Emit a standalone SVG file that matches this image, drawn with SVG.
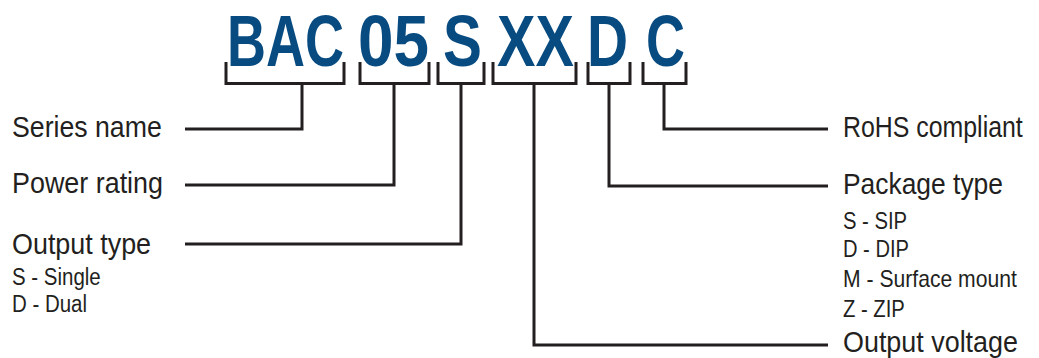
<svg xmlns="http://www.w3.org/2000/svg" width="1039" height="358" viewBox="0 0 1039 358">
<style>
.code{font-family:"Liberation Sans",Arial,sans-serif;font-weight:bold;font-size:72px;fill:#074b81}
.lbl{font-family:"Liberation Sans",Arial,sans-serif;font-size:30px;fill:#231f20}
.sub{font-family:"Liberation Sans",Arial,sans-serif;font-size:23px;fill:#231f20}
.ln{fill:none;stroke:#231f20;stroke-width:3;stroke-linejoin:miter;stroke-linecap:butt}
</style>
<rect width="1039" height="358" fill="#ffffff"/>
<g id="code">
<text class="code" x="0" y="0" transform="translate(227,66) scale(0.75,1)">BAC</text>
<text class="code" x="0" y="0" transform="translate(358,66) scale(0.887,1)">05</text>
<text class="code" x="0" y="0" transform="translate(443,66) scale(0.81,1)">S</text>
<text class="code" x="0" y="0" transform="translate(497,66) scale(0.80,1)">XX</text>
<text class="code" x="0" y="0" transform="translate(587,66) scale(0.79,1)">D</text>
<text class="code" x="0" y="0" transform="translate(646,66) scale(0.75,1)">C</text>
</g>
<g id="connectors">
<path class="ln" d="M226,62 V83.5 H344 V62 M302,83.5 V129 H185"/>
<path class="ln" d="M360,62 V83.5 H429 V62 M394,83.5 V185 H185"/>
<path class="ln" d="M438,62 V83.5 H484 V62 M461,83.5 V244 H185"/>
<path class="ln" d="M493,62 V83.5 H576 V62 M534,83.5 V345 H828"/>
<path class="ln" d="M588,62 V83.5 H630 V62 M609,83.5 V186 H828"/>
<path class="ln" d="M643,62 V83.5 H686 V62 M664,83.5 V129 H828"/>
</g>
<g id="series-name"><text class="lbl" x="0" y="0" transform="translate(12,137) scale(0.89,1)">Series name</text></g>
<g id="power-rating"><text class="lbl" x="0" y="0" transform="translate(12,193) scale(0.897,1)">Power rating</text></g>
<g id="output-type">
<text class="lbl" x="0" y="0" transform="translate(12,254) scale(0.897,1)">Output type</text>
<text class="sub" x="0" y="0" transform="translate(12,285) scale(0.89,1)">S - Single</text>
<text class="sub" x="0" y="0" transform="translate(12,312) scale(0.89,1)">D - Dual</text>
</g>
<g id="rohs"><text class="lbl" x="0" y="0" transform="translate(843,137) scale(0.83,1)">RoHS compliant</text></g>
<g id="package-type">
<text class="lbl" x="0" y="0" transform="translate(843,194) scale(0.88,1)">Package type</text>
<text class="sub" x="0" y="0" transform="translate(843,229) scale(0.88,1)">S - SIP</text>
<text class="sub" x="0" y="0" transform="translate(843,257) scale(0.875,1)">D - DIP</text>
<text class="sub" x="0" y="0" transform="translate(843,287) scale(0.92,1)">M - Surface mount</text>
<text class="sub" x="0" y="0" transform="translate(843,317) scale(0.88,1)">Z - ZIP</text>
</g>
<g id="output-voltage"><text class="lbl" x="0" y="0" transform="translate(843,352) scale(0.897,1)">Output voltage</text></g>
</svg>
